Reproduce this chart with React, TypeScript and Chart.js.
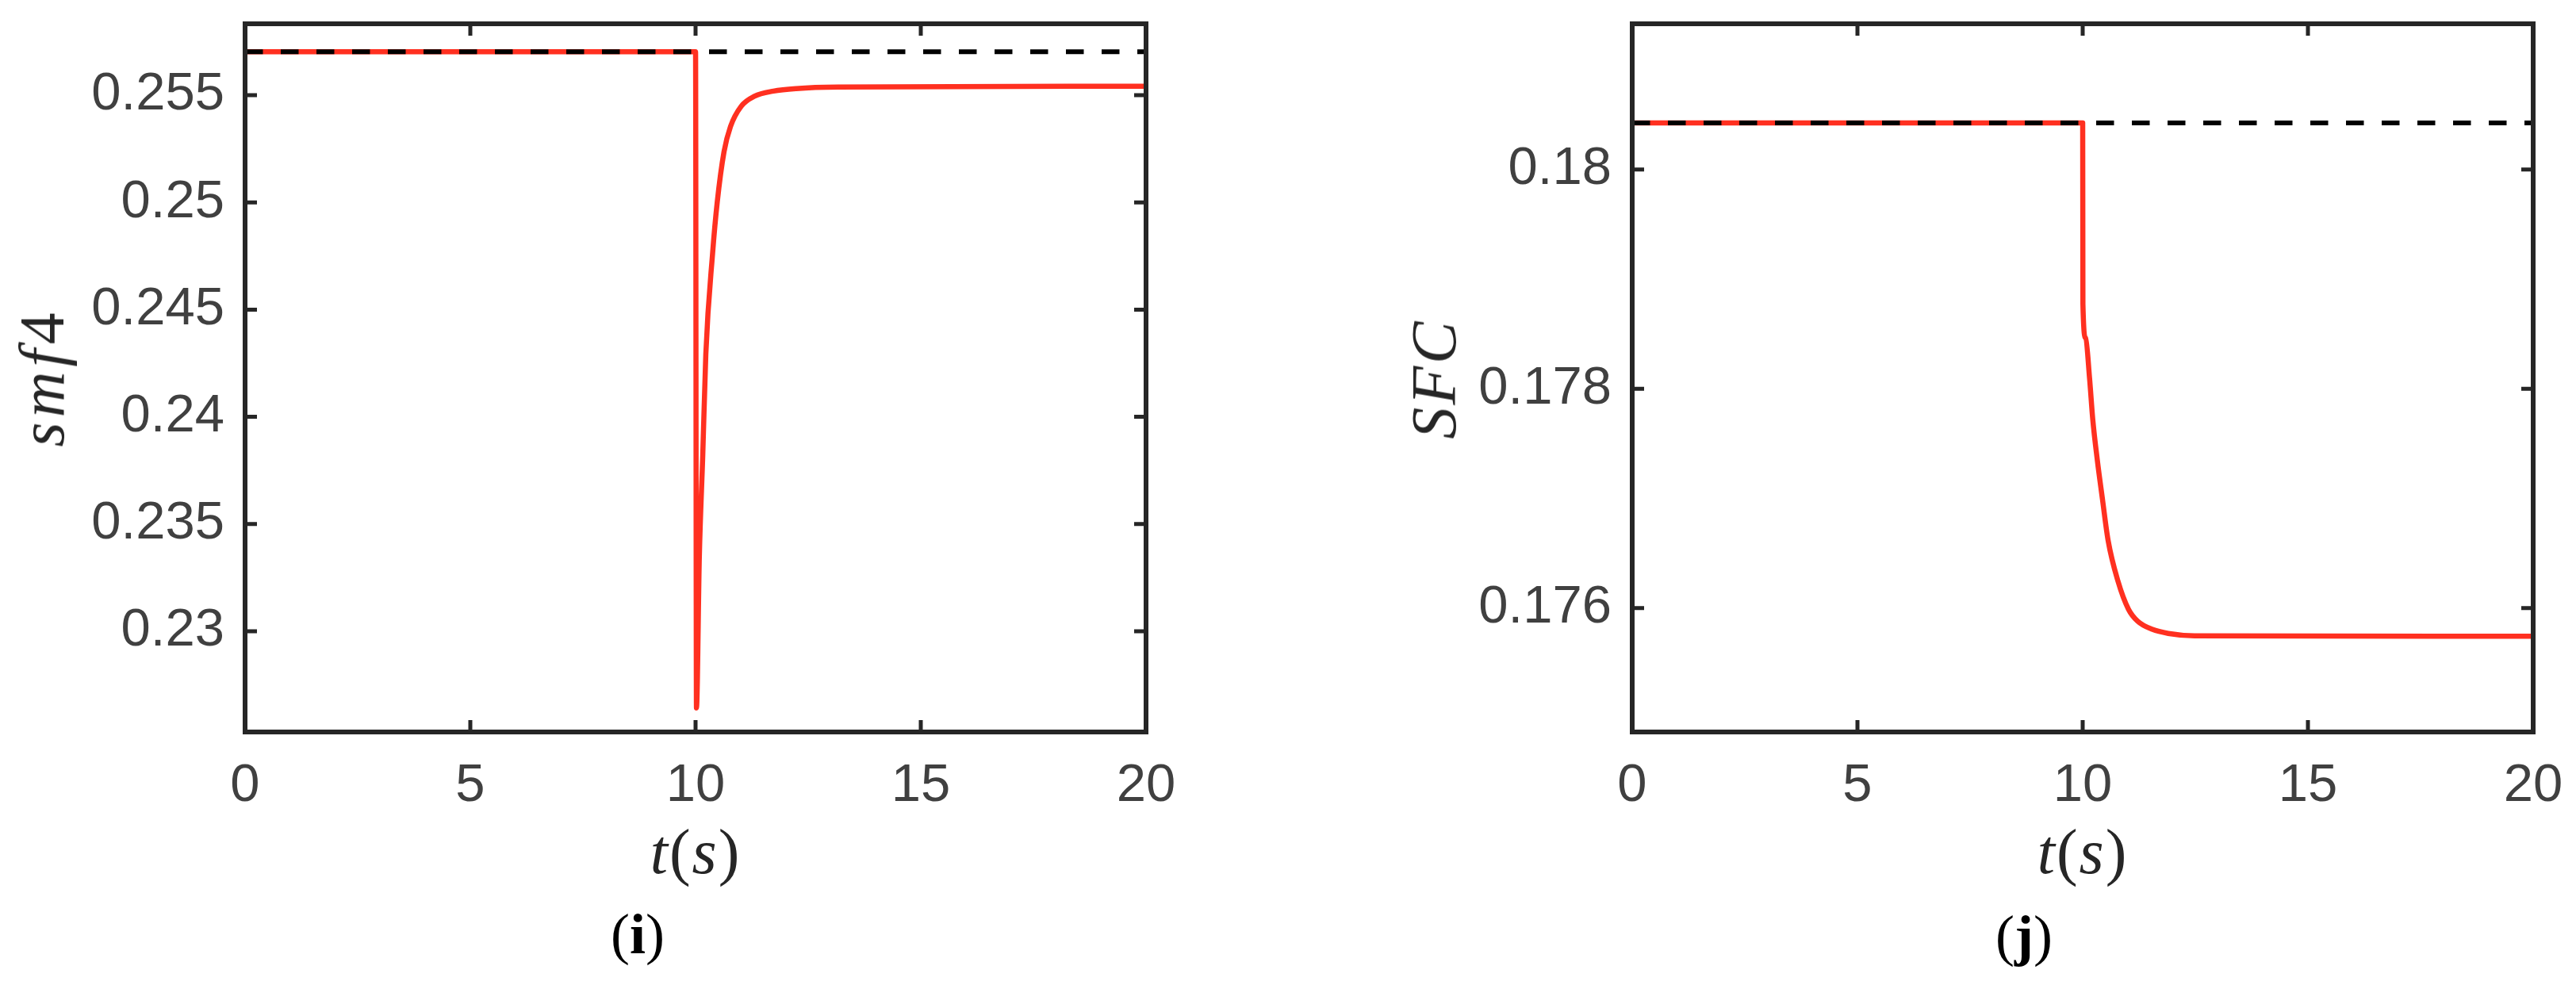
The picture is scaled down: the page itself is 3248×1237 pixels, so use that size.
import React, { useEffect, useRef } from "react";
import { Chart, registerables } from "chart.js";

Chart.register(...registerables);

// ---------- data ----------
const tTicks = [0, 5, 10, 15, 20];

const smfTicks = [0.23, 0.235, 0.24, 0.245, 0.25, 0.255];
const smfMin = 0.2253;
const smfMax = 0.25833;
const smfRefT = [0, 20];
const smfRefV = [0.25703, 0.25703];
const smfT = [0, 10, 10.02, 10.084, 10.16, 10.228, 10.379, 10.481, 10.632, 10.776, 11.012, 11.307, 11.729, 12.234, 13.162, 20];
const smfV = [0.25703, 0.25703, 0.22642, 0.23349, 0.23821, 0.24292, 0.24764, 0.25, 0.25236, 0.25354, 0.25448, 0.25495, 0.25519, 0.25531, 0.25538, 0.25542];

const sfcTicks = [0.176, 0.178, 0.18];
const sfcMin = 0.17487;
const sfcMax = 0.18133;
const sfcRefT = [0, 20];
const sfcRefV = [0.180426, 0.180426];
const sfcT = [0, 10, 10.005, 10.065, 10.153, 10.223, 10.323, 10.441, 10.564, 10.781, 11.016, 11.222, 11.545, 11.898, 12.485, 20];
const sfcV = [0.180426, 0.180426, 0.178776, 0.178463, 0.178094, 0.177724, 0.177356, 0.176987, 0.176618, 0.176249, 0.17599, 0.17588, 0.175806, 0.175769, 0.175747, 0.175743];

// ---------- styling ----------
const AXIS = "#262626";
const TICKTXT = "#404040";
const RED = "#ff3020";

const boxPlugin = {
  id: "matlabBox",
  afterDatasetsDraw(chart: any) {
    const { ctx, chartArea, scales } = chart;
    const { left, right, top, bottom } = chartArea;
    const x = scales.x;
    const y = scales.y;
    ctx.save();
    ctx.strokeStyle = AXIS;
    ctx.lineWidth = 6;
    ctx.lineJoin = "miter";
    ctx.strokeRect(left, top, right - left, bottom - top);
    ctx.lineWidth = 5;
    ctx.lineCap = "butt";
    ctx.beginPath();
    const L = 15;
    x.ticks.forEach((tk: any) => {
      const px = x.getPixelForValue(tk.value);
      ctx.moveTo(px, bottom);
      ctx.lineTo(px, bottom - L);
      ctx.moveTo(px, top);
      ctx.lineTo(px, top + L);
    });
    y.ticks.forEach((tk: any) => {
      const py = y.getPixelForValue(tk.value);
      ctx.moveTo(left, py);
      ctx.lineTo(left + L, py);
      ctx.moveTo(right, py);
      ctx.lineTo(right - L, py);
    });
    ctx.stroke();
    ctx.restore();
  },
};

function pts(xs: number[], ys: number[]) {
  return xs.map((x, i) => ({ x, y: ys[i] }));
}

function makeChart(
  canvas: HTMLCanvasElement,
  cfg: {
    t: number[]; v: number[]; refT: number[]; refV: number[];
    yMin: number; yMax: number; yTicks: number[]; yWidth: number; padRight: number;
  }
) {
  const tickFont = { family: "'Liberation Sans', Arial, sans-serif", size: 67 };
  return new Chart(canvas, {
    type: "line",
    data: {
      datasets: [
        {
          data: pts(cfg.refT, cfg.refV),
          borderColor: "#000000",
          borderWidth: 6,
          borderDash: [22.5, 22.5],
          pointRadius: 0,
          fill: false,
          tension: 0,
        },
        {
          data: pts(cfg.t, cfg.v),
          borderColor: RED,
          borderWidth: 6.5,
          pointRadius: 0,
          fill: false,
          cubicInterpolationMode: "monotone",
          borderJoinStyle: "round",
          borderCapStyle: "round",
        },
      ],
    },
    options: {
      animation: false,
      responsive: false,
      devicePixelRatio: 1,
      events: [],
      layout: { padding: { left: 0, right: cfg.padRight, top: 30, bottom: 0 } },
      plugins: {
        legend: { display: false },
        tooltip: { enabled: false },
        title: { display: false },
      },
      scales: {
        x: {
          type: "linear",
          position: "bottom",
          min: 0,
          max: 20,
          grid: { display: false, drawTicks: false },
          border: { display: false },
          ticks: {
            padding: 28,
            font: tickFont,
            color: TICKTXT,
            maxRotation: 0,
            autoSkip: false,
            callback: (val: any) => String(val),
          },
          afterBuildTicks: (s: any) => {
            s.ticks = tTicks.map((value) => ({ value }));
          },
          afterFit: (s: any) => {
            s.height = 314;
            s.paddingLeft = 0;
            s.paddingRight = 0;
          },
        },
        y: {
          type: "linear",
          position: "left",
          min: cfg.yMin,
          max: cfg.yMax,
          grid: { display: false, drawTicks: false },
          border: { display: false },
          ticks: {
            padding: 26,
            font: tickFont,
            color: TICKTXT,
            autoSkip: false,
            callback: (val: any) => String(val),
          },
          afterBuildTicks: (s: any) => {
            s.ticks = cfg.yTicks.map((value) => ({ value }));
          },
          afterFit: (s: any) => {
            s.width = cfg.yWidth;
            s.paddingTop = 0;
            s.paddingBottom = 0;
          },
        },
      },
    } as any,
    plugins: [boxPlugin],
  });
}

const serif = "'Liberation Serif', 'Times New Roman', serif";

function Label(props: {
  x: number; y: number; rotate?: boolean; size: number; spacing?: number;
  color?: string; children: React.ReactNode;
}) {
  return (
    <div
      style={{
        position: "absolute",
        left: props.x,
        top: props.y,
        transform: `translate(-50%, -50%)${props.rotate ? " rotate(-90deg)" : ""}`,
        whiteSpace: "nowrap",
        lineHeight: 1,
        fontFamily: serif,
        fontSize: props.size,
        letterSpacing: props.spacing ?? 0,
        color: props.color ?? AXIS,
      }}
    >
      {props.children}
    </div>
  );
}

export default function App() {
  const leftRef = useRef<HTMLCanvasElement>(null);
  const rightRef = useRef<HTMLCanvasElement>(null);

  useEffect(() => {
    const c1 = makeChart(leftRef.current!, {
      t: smfT, v: smfV, refT: smfRefT, refV: smfRefV,
      yMin: smfMin, yMax: smfMax, yTicks: smfTicks, yWidth: 309, padRight: 179,
    });
    const c2 = makeChart(rightRef.current!, {
      t: sfcT, v: sfcV, refT: sfcRefT, refV: sfcRefV,
      yMin: sfcMin, yMax: sfcMax, yTicks: sfcTicks, yWidth: 434, padRight: 54,
    });
    return () => {
      c1.destroy();
      c2.destroy();
    };
  }, []);

  return (
    <div
      style={{
        position: "absolute",
        left: 0,
        top: 0,
        width: 3248,
        height: 1237,
        background: "#ffffff",
        overflow: "hidden",
      }}
    >
      <canvas
        ref={leftRef}
        width={1624}
        height={1237}
        style={{ position: "absolute", left: 0, top: 0, width: 1624, height: 1237 }}
      />
      <canvas
        ref={rightRef}
        width={1624}
        height={1237}
        style={{ position: "absolute", left: 1624, top: 0, width: 1624, height: 1237 }}
      />

      <Label x={53} y={476} rotate size={80} spacing={6}>
        <i>smf</i>
        <span style={{ fontStyle: "normal" }}>4</span>
      </Label>
      <Label x={1808} y={478} rotate size={80} spacing={3}>
        <i>SFC</i>
      </Label>

      <Label x={877} y={1074} size={80} spacing={2}>
        <i>t</i>(<i>s</i>)
      </Label>
      <Label x={2626} y={1074} size={80} spacing={2}>
        <i>t</i>(<i>s</i>)
      </Label>

      <Label x={804} y={1178} size={72} color="#000000">
        (<b>i</b>)
      </Label>
      <Label x={2552} y={1180} size={72} color="#000000">
        (<b>j</b>)
      </Label>
    </div>
  );
}
